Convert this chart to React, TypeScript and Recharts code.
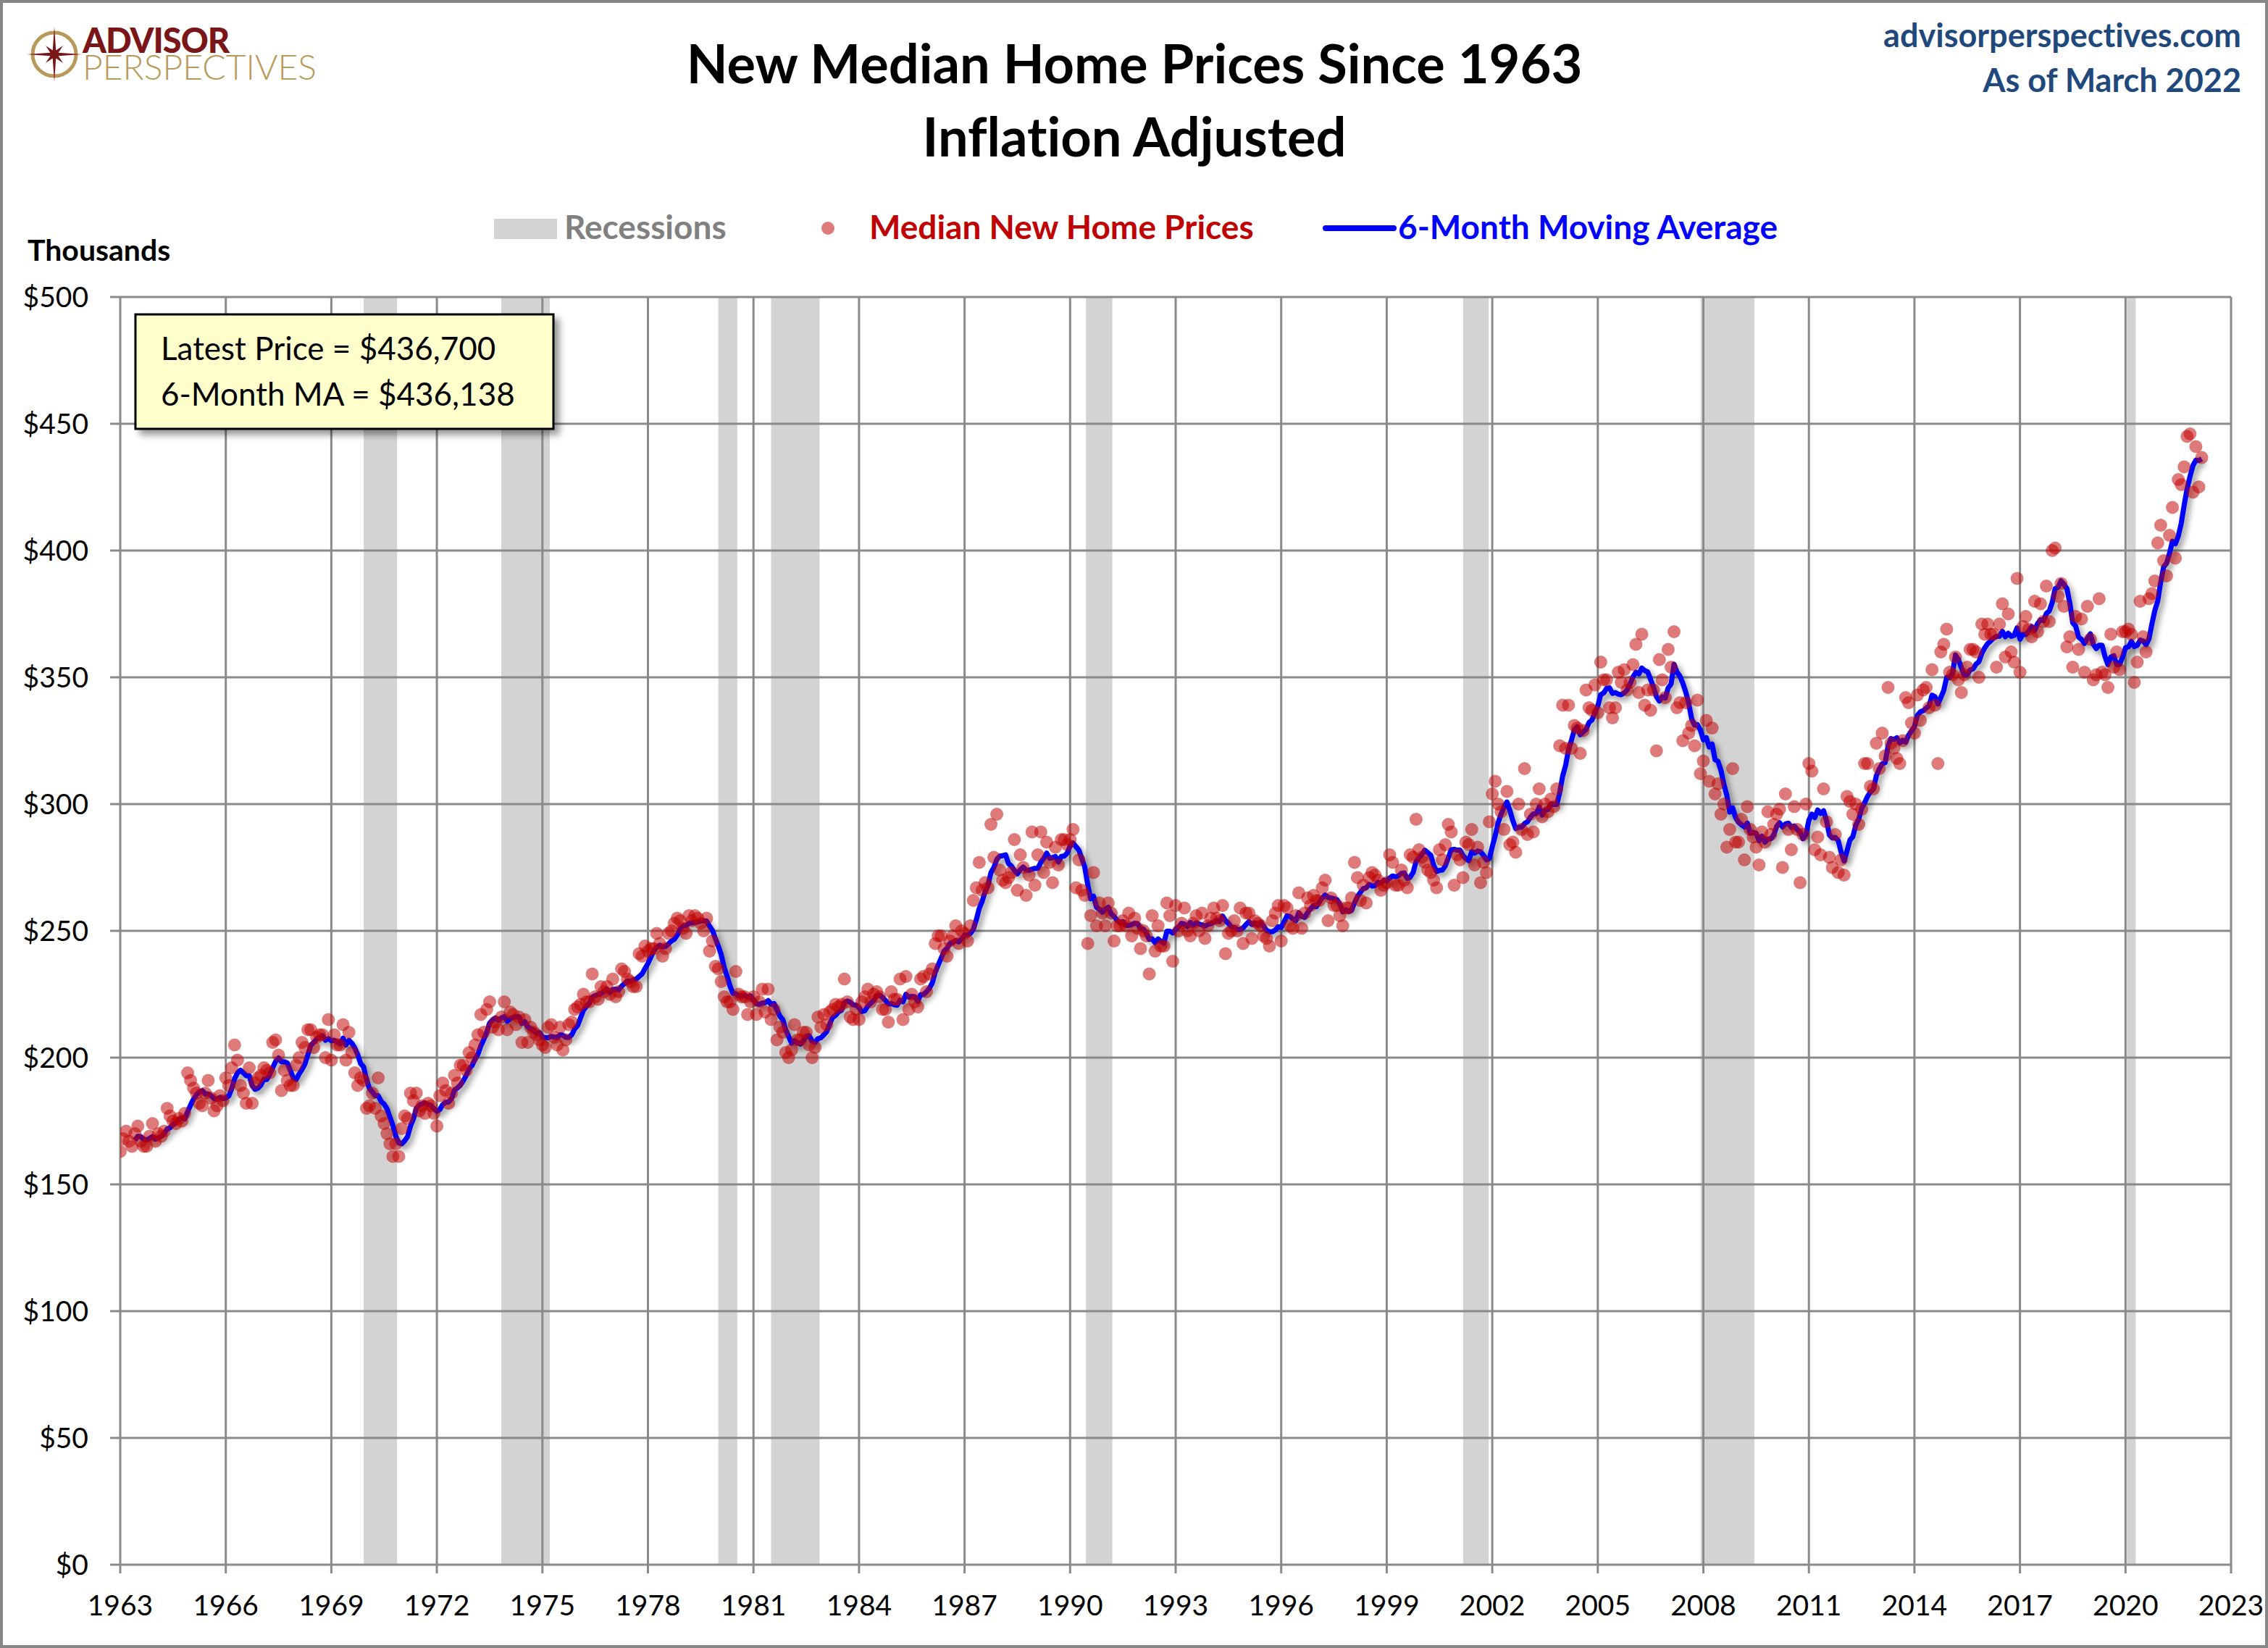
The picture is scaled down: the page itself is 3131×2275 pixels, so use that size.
import React from 'react';
import {
  ComposedChart,
  Line,
  Scatter,
  XAxis,
  YAxis,
  ReferenceArea,
  ReferenceLine,
} from 'recharts';

// ---------------- DATA ----------------
const START_YEAR = 1963;

// Inflation-adjusted median new home prices, thousands of dollars, monthly from Jan 1963
const prices1960s = [
  163, 168, 171, 167, 165, 170, 173, 167, 165, 165, 169, 174, // 1963
  167, 170, 169, 171, 180, 177, 175, 174, 176, 175, 178, 194, // 1964
  191, 188, 186, 182, 181, 186, 191, 184, 179, 181, 185, 183, // 1965
  192, 189, 196, 205, 199, 189, 186, 182, 196, 182, 190, 192, // 1966
  193, 196, 195, 194, 206, 207, 201, 187, 195, 191, 189, 189, // 1967
  197, 200, 206, 204, 211, 211, 204, 208, 209, 209, 200, 215, // 1968
  199, 209, 205, 205, 213, 199, 210, 202, 194, 189, 192, 191, // 1969
];

const prices1970s = [
  180, 181, 186, 180, 192, 177, 174, 170, 166, 161, 166, 161, // 1970
  172, 177, 176, 186, 183, 186, 179, 181, 178, 182, 181, 178, // 1971
  173, 185, 190, 187, 182, 186, 193, 190, 197, 197, 195, 202, // 1972
  200, 205, 209, 217, 210, 219, 222, 212, 214, 211, 216, 222, // 1973
  211, 218, 217, 213, 216, 206, 215, 206, 212, 210, 209, 207, // 1974
  205, 204, 212, 213, 208, 205, 212, 203, 207, 213, 214, 219, // 1975
  220, 221, 225, 222, 222, 233, 224, 223, 228, 226, 228, 225, // 1976
  231, 224, 226, 235, 234, 231, 230, 228, 228, 241, 240, 244, // 1977
  242, 243, 243, 249, 245, 240, 243, 249, 250, 253, 255, 254, // 1978
  251, 249, 256, 254, 256, 255, 253, 250, 255, 242, 246, 236, // 1979
];

const prices1980s = [
  235, 230, 224, 222, 222, 219, 234, 225, 224, 224, 217, 222, // 1980
  224, 217, 222, 227, 218, 227, 215, 219, 207, 212, 210, 202, // 1981
  200, 203, 213, 207, 207, 210, 210, 205, 200, 204, 216, 212, // 1982
  217, 213, 218, 219, 221, 220, 221, 231, 222, 216, 215, 219, // 1983
  215, 222, 224, 227, 222, 225, 226, 224, 219, 219, 214, 226, // 1984
  223, 223, 231, 215, 232, 219, 225, 222, 220, 231, 232, 226, // 1985
  233, 235, 245, 248, 248, 243, 240, 246, 248, 252, 245, 250, // 1986
  249, 246, 252, 262, 267, 277, 266, 269, 267, 292, 279, 296, // 1987
  274, 270, 269, 271, 273, 286, 266, 280, 275, 264, 272, 289, // 1988
  268, 280, 289, 273, 285, 277, 269, 283, 276, 286, 286, 284, // 1989
];

const prices1990s = [
  286, 290, 267, 278, 266, 264, 245, 256, 273, 252, 261, 257, // 1990
  252, 261, 257, 246, 252, 252, 254, 252, 257, 248, 255, 251, // 1991
  243, 250, 248, 233, 256, 242, 252, 244, 244, 261, 256, 238, // 1992
  260, 250, 253, 259, 250, 248, 253, 256, 250, 257, 247, 252, // 1993
  255, 259, 255, 254, 260, 241, 249, 250, 254, 250, 259, 245, // 1994
  257, 257, 247, 254, 253, 252, 248, 247, 244, 254, 257, 260, // 1995
  246, 260, 259, 252, 251, 256, 265, 251, 257, 263, 260, 264, // 1996
  262, 262, 267, 270, 254, 263, 260, 260, 256, 252, 259, 259, // 1997
  263, 277, 271, 262, 268, 261, 271, 273, 272, 270, 266, 268, // 1998
  269, 280, 277, 268, 268, 274, 270, 267, 280, 279, 294, 282, // 1999
];

const prices2000s = [
  279, 277, 274, 273, 270, 267, 282, 278, 284, 292, 289, 268, // 2000
  280, 278, 271, 285, 284, 290, 276, 283, 269, 277, 273, 293, // 2001
  304, 309, 300, 297, 290, 305, 284, 285, 281, 300, 290, 314, // 2002
  288, 296, 289, 300, 306, 295, 300, 297, 302, 299, 306, 323, // 2003
  339, 322, 339, 322, 331, 330, 320, 329, 345, 338, 337, 347, // 2004
  336, 356, 349, 349, 338, 334, 338, 352, 348, 353, 345, 348, // 2005
  355, 363, 344, 367, 339, 345, 337, 345, 321, 357, 349, 342, // 2006
  361, 354, 368, 338, 340, 325, 340, 328, 331, 323, 341, 312, // 2007
  317, 333, 309, 330, 304, 308, 296, 300, 283, 290, 314, 285, // 2008
  285, 294, 278, 299, 290, 287, 283, 276, 289, 285, 297, 288, // 2009
];

const prices2010s = [
  292, 296, 298, 275, 304, 290, 282, 299, 290, 269, 288, 300, // 2010
  316, 313, 282, 287, 280, 306, 293, 279, 275, 288, 273, 278, // 2011
  272, 303, 301, 296, 300, 292, 298, 316, 316, 307, 306, 324, // 2012
  314, 328, 319, 346, 324, 322, 318, 316, 325, 342, 340, 332, // 2013
  328, 343, 333, 345, 346, 338, 353, 339, 316, 360, 363, 369, // 2014
  352, 351, 358, 349, 344, 351, 354, 361, 361, 360, 350, 371, // 2015
  367, 371, 367, 367, 354, 371, 379, 358, 375, 360, 356, 389, // 2016
  352, 370, 374, 369, 366, 380, 368, 379, 372, 386, 372, 400, // 2017
  401, 382, 387, 378, 362, 366, 354, 374, 361, 373, 352, 378, // 2018
  365, 349, 351, 381, 352, 351, 346, 367, 354, 360, 353, 368, // 2019
];

const prices2020s = [
  368, 369, 367, 348, 356, 380, 366, 360, 381, 383, 388, 403, // 2020
  410, 396, 390, 406, 417, 397, 428, 426, 433, 445, 446, 423, // 2021
  441, 425.1, 436.7, // 2022 (through March)
];

// NBER recessions as [start, end] in decimal years
const recessions: [number, number][] = [
  [1969.92, 1970.87],
  [1973.83, 1975.21],
  [1980.0, 1980.54],
  [1981.5, 1982.88],
  [1990.45, 1991.2],
  [2001.17, 2001.9],
  [2007.92, 2009.45],
  [2020.04, 2020.29],
];

const xTicks = [1963, 1966, 1969, 1972, 1975, 1978, 1981, 1984, 1987, 1990, 1993, 1996, 1999, 2002, 2005, 2008, 2011, 2014, 2017, 2020, 2023];
const yTicks = [0, 50, 100, 150, 200, 250, 300, 350, 400, 450, 500];

const latestPriceLabel = 'Latest Price = $436,700';
const latestMALabel = '6-Month MA = $436,138';

// ---------------- BUILD TABLE ----------------
const allPrices = [
  ...prices1960s,
  ...prices1970s,
  ...prices1980s,
  ...prices1990s,
  ...prices2000s,
  ...prices2010s,
  ...prices2020s,
];

const MA_WINDOW = 6;
const chartData = allPrices.map((p, i) => {
  let ma: number | null = null;
  if (i >= MA_WINDOW - 1) {
    let s = 0;
    for (let k = i - MA_WINDOW + 1; k <= i; k++) s += allPrices[k];
    ma = s / MA_WINDOW;
  }
  return { x: START_YEAR + i / 12, price: p, ma };
});

// ---------------- STYLE ----------------
const FONT = "Lato, 'Open Sans', 'Noto Sans', sans-serif";
const GRID = '#8a8a8a';
const W = 3131;
const H = 2275;
const NOLIG: React.CSSProperties = { fontVariantLigatures: 'none' };

const renderDot = (props: any) => {
  const { cx, cy } = props;
  if (cx == null || cy == null) return <g />;
  return <circle cx={cx} cy={cy} r={9} fill="#c00000" fillOpacity={0.52} />;
};

function starPoints(cx: number, cy: number): string {
  const pts: string[] = [];
  for (let k = 0; k < 16; k++) {
    const ang = (k * 22.5 - 90) * (Math.PI / 180);
    let r: number;
    if (k % 2 === 1) r = 6;
    else if ((k / 2) % 2 === 0) r = 38;
    else r = 17;
    pts.push(`${cx + r * Math.cos(ang)},${cy + r * Math.sin(ang)}`);
  }
  return pts.join(' ');
}

const Logo = () => (
  <g>
    <circle cx={75} cy={75} r={30} fill="none" stroke="#b8995a" strokeWidth={5} />
    <polygon points={starPoints(75, 75)} fill="#7a1518" />
    <text fontFamily={FONT} style={NOLIG}>
      <tspan x={114} y={73} fontWeight={900} fontSize={47} fill="#7a1518" letterSpacing={-1}>
        ADVISOR
      </tspan>
      <tspan x={114} y={110} fontWeight={300} fontSize={48} fill="#b8995a">
        PERSPECTIVES
      </tspan>
    </text>
  </g>
);

export default function App() {
  return (
    <div style={{ position: 'relative', width: W, height: H, background: '#fff', overflow: 'hidden' }}>
      <style>{`
        body { margin: 0; }
        .recharts-line-curve { filter: drop-shadow(4px 5px 4px rgba(0,0,0,0.45)); stroke-linejoin: round; }
      `}</style>
      <ComposedChart
        width={W}
        height={H}
        data={chartData}
        margin={{ top: 410, right: 51, bottom: 0, left: 0 }}
      >
        <XAxis
          type="number"
          dataKey="x"
          domain={[1963, 2023]}
          ticks={xTicks}
          interval={0}
          allowDataOverflow
          height={115}
          tickSize={12}
          tickMargin={30}
          axisLine={{ stroke: GRID, strokeWidth: 3 }}
          tickLine={{ stroke: GRID, strokeWidth: 3 }}
          tick={{ fill: '#000', fontSize: 39, fontFamily: FONT }}
        />
        <YAxis
          type="number"
          domain={[0, 500]}
          ticks={yTicks}
          interval={0}
          allowDataOverflow
          width={166}
          tickSize={14}
          tickMargin={30}
          tickFormatter={(v: number) => `$${v}`}
          axisLine={{ stroke: GRID, strokeWidth: 3 }}
          tickLine={{ stroke: GRID, strokeWidth: 3 }}
          tick={{ fill: '#000', fontSize: 39, fontFamily: FONT }}
        />
        {recessions.map(([a, b]) => (
          <ReferenceArea
            key={`rec-${a}`}
            x1={a}
            x2={b}
            y1={0}
            y2={500}
            fill="#d3d3d3"
            fillOpacity={1}
            stroke="none"
            ifOverflow="visible"
            zIndex={-200}
          />
        ))}
        {xTicks.slice(1).map((t) => (
          <ReferenceLine key={`vx-${t}`} x={t} stroke={GRID} strokeWidth={3} ifOverflow="visible" zIndex={-150} />
        ))}
        {yTicks.slice(1).map((t) => (
          <ReferenceLine key={`hy-${t}`} y={t} stroke={GRID} strokeWidth={3} ifOverflow="visible" zIndex={-150} />
        ))}
        <Line
          type="linear"
          dataKey="ma"
          stroke="#0000ff"
          strokeWidth={7}
          dot={false}
          activeDot={false}
          isAnimationActive={false}
        />
        <Scatter dataKey="price" shape={renderDot} isAnimationActive={false} />
      </ComposedChart>

      <svg
        width={W}
        height={H}
        style={{ position: 'absolute', left: 0, top: 0, pointerEvents: 'none' }}
      >
        <defs>
          <filter id="boxShadow" x="-10%" y="-10%" width="130%" height="140%">
            <feDropShadow dx="7" dy="7" stdDeviation="5" floodColor="#000" floodOpacity="0.4" />
          </filter>
        </defs>
        <rect x={2} y={2} width={W - 4} height={H - 4} fill="none" stroke="#868686" strokeWidth={4} />
        <Logo />

        <text x={1566} y={115} textAnchor="middle" fontFamily={FONT} fontWeight={700} fontSize={74} fill="#000" style={NOLIG}>
          New Median Home Prices Since 1963
        </text>
        <text x={1566} y={216} textAnchor="middle" fontFamily={FONT} fontWeight={700} fontSize={74} fill="#000" style={NOLIG}>
          Inflation Adjusted
        </text>

        <text x={3094} y={65} textAnchor="end" fontFamily={FONT} fontWeight={700} fontSize={45} fill="#1f497d" style={NOLIG}>
          advisorperspectives.com
        </text>
        <text x={3094} y={127} textAnchor="end" fontFamily={FONT} fontWeight={700} fontSize={45} fill="#1f497d" style={NOLIG}>
          As of March 2022
        </text>

        {/* Legend */}
        <rect x={682} y={302} width={87} height={28} fill="#d3d3d3" />
        <text x={779} y={330} fontFamily={FONT} fontWeight={700} fontSize={46} fill="#808080" style={NOLIG}>
          Recessions
        </text>
        <circle cx={1143} cy={315} r={9} fill="#c00000" fillOpacity={0.52} />
        <text x={1200} y={330} fontFamily={FONT} fontWeight={700} fontSize={46} fill="#c00000" style={NOLIG}>
          Median New Home Prices
        </text>
        <line x1={1830} y1={315} x2={1924} y2={315} stroke="#0000ff" strokeWidth={8} strokeLinecap="round" />
        <text x={1930} y={330} fontFamily={FONT} fontWeight={700} fontSize={46} fill="#0000ff" style={NOLIG}>
          6-Month Moving Average
        </text>

        <text x={38} y={360} fontFamily={FONT} fontWeight={700} fontSize={41} fill="#000" style={NOLIG}>
          Thousands
        </text>

        {/* Annotation */}
        <rect x={187} y={434} width={577} height={158} fill="#ffffcc" stroke="#000" strokeWidth={3} filter="url(#boxShadow)" />
        <text x={222} y={497} fontFamily={FONT} fontSize={44} fill="#000" style={NOLIG}>
          {latestPriceLabel}
        </text>
        <text x={222} y={560} fontFamily={FONT} fontSize={44} fill="#000" style={NOLIG}>
          {latestMALabel}
        </text>
      </svg>
    </div>
  );
}
